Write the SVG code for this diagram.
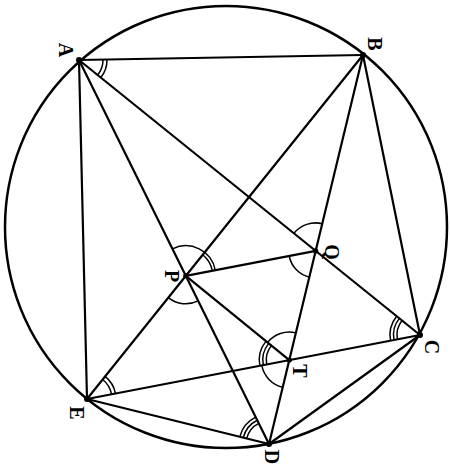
<svg xmlns="http://www.w3.org/2000/svg" width="450" height="466" viewBox="0 0 450 466">
<style>
.ln{stroke:#000;stroke-width:2.2;fill:none;stroke-linecap:round}
.arc{stroke:#000;stroke-width:1.5;fill:none}
.pt{fill:#000}
.lb{font-family:"Liberation Serif","DejaVu Serif",serif;font-size:20px;font-weight:bold;fill:#000;text-anchor:middle;dominant-baseline:central}
</style>
<rect width="450" height="466" fill="#fff"/>
<circle cx="226" cy="227" r="221" fill="none" stroke="#000" stroke-width="2.5"/>
<g id="connectors">
<line class="ln" x1="79" y1="60" x2="363" y2="55"/>
<line class="ln" x1="79" y1="60" x2="87" y2="399"/>
<line class="ln" x1="79" y1="60" x2="269" y2="444"/>
<line class="ln" x1="79" y1="60" x2="420" y2="335"/>
<line class="ln" x1="363" y1="55" x2="87" y2="399"/>
<line class="ln" x1="363" y1="55" x2="269" y2="444"/>
<line class="ln" x1="363" y1="55" x2="420" y2="335"/>
<line class="ln" x1="420" y1="335" x2="87" y2="399"/>
<line class="ln" x1="420" y1="335" x2="269" y2="444"/>
<line class="ln" x1="87" y1="399" x2="269" y2="444"/>
<line class="ln" x1="185.8" y1="275.8" x2="315.7" y2="250.9"/>
<line class="ln" x1="185.8" y1="275.8" x2="289.3" y2="360.1"/>
</g>
<g id="A">
<circle class="pt" cx="79" cy="60" r="3"/>
<path class="arc" d="M103,59.6 A24,24 0 0 1 97.68,75.07 M107,59.5 A28,28 0 0 1 100.79,77.58"/>
<text class="lb" transform="translate(66,50) rotate(90)">A</text>
</g>
<g id="B">
<circle class="pt" cx="363" cy="55" r="3"/>
<text class="lb" transform="translate(375,44) rotate(90)">B</text>
</g>
<g id="C">
<circle class="pt" cx="420" cy="335" r="3"/>
<path class="arc" d="M397.41,339.35 A23,23 0 0 1 402.1,320.56 M393.98,340.01 A26.5,26.5 0 0 1 399.38,318.36 M390.54,340.67 A30,30 0 0 1 396.65,316.16"/>
<text class="lb" transform="translate(432,347) rotate(90)">C</text>
</g>
<g id="D">
<circle class="pt" cx="269" cy="444" r="3"/>
<path class="arc" d="M246.67,438.48 A23,23 0 0 1 258.81,423.38 M243.28,437.63 A26.5,26.5 0 0 1 257.26,420.24 M239.88,436.79 A30,30 0 0 1 255.71,417.1"/>
<text class="lb" transform="translate(272,457) rotate(90)">D</text>
</g>
<g id="E">
<circle class="pt" cx="87" cy="399" r="3"/>
<path class="arc" d="M102.63,379.49 A25,25 0 0 1 111.55,394.27 M105.13,376.37 A29,29 0 0 1 115.48,393.52"/>
<text class="lb" transform="translate(77,413) rotate(90)">E</text>
</g>
<g id="P">
<circle class="pt" cx="185.8" cy="275.8" r="2.6"/>
<path class="arc" d="M172.51,248.9 A30,30 0 0 1 215.26,270.13 M202.68,254.73 A27,27 0 0 1 212.31,270.69 M198.21,300.9 A28,28 0 0 1 168.29,297.65"/>
<text class="lb" transform="translate(172,276) rotate(90)">P</text>
</g>
<g id="Q">
<circle class="pt" cx="315.7" cy="250.9" r="2.6"/>
<path class="arc" d="M293.91,233.32 A28,28 0 0 1 322.28,223.68 M309.35,277.14 A27,27 0 0 1 289.19,256.01"/>
<text class="lb" transform="translate(332,252) rotate(90)">Q</text>
</g>
<g id="T">
<circle class="pt" cx="289.3" cy="360.1" r="2.6"/>
<path class="arc" d="M266.71,364.45 A23,23 0 0 1 271.48,345.56 M263.28,365.11 A26.5,26.5 0 0 1 268.77,343.35 M259.84,365.77 A30,30 0 0 1 266.05,341.14 M267.6,342.4 A28,28 0 0 1 295.88,332.88 M282.72,387.32 A28,28 0 0 1 261.8,365.39"/>
<text class="lb" transform="translate(300,371) rotate(90)">T</text>
</g>
</svg>
